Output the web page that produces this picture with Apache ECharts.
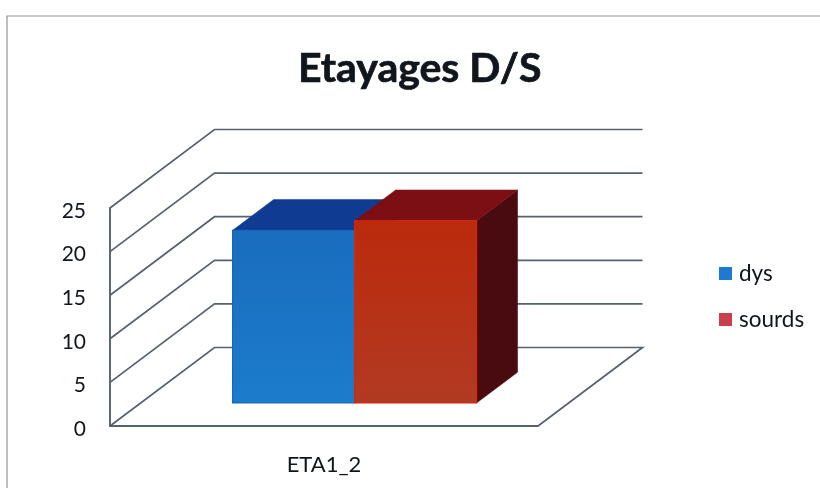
<!DOCTYPE html>
<html>
<head>
<meta charset="utf-8">
<style>html,body{margin:0;padding:0;background:#fff}#c{width:820px;height:488px}</style>
<script src="https://cdn.jsdelivr.net/npm/echarts@6/dist/echarts.min.js"></script>
</head>
<body>
<div id="c"></div>
<script>
const categories = ['ETA1_2'];
const yTicks = [0, 5, 10, 15, 20, 25];
const dysValues = [19.8];
const sourdsValues = [20.9];
const seriesNames = ['dys', 'sourds'];

// oblique projection of the depth axis, in pixels
const DEPTH_X = 104.5, DEPTH_Y = -78.5;
const BAR_FRONT = 0.293, BAR_BACK = 0.685, BAR_BAND = 0.285;
const LINE = '#56626f';
const G = echarts.graphic;
const vert = (a, b) => new G.LinearGradient(0, 0, 0, 1, [{offset: 0, color: a}, {offset: 1, color: b}]);

function wallRender(params, api) {
  const v = api.value(1);
  const p = api.coord([0, v]);
  const w = api.size([1, 0])[0];
  const left = p[0] - w / 2;
  const pts = [[left, p[1]], [left + DEPTH_X, p[1] + DEPTH_Y], [left + w + DEPTH_X, p[1] + DEPTH_Y]];
  if (v === 0) pts.push([left + w, p[1]]);
  return {type: 'polyline', shape: {points: pts},
    style: {fill: null, stroke: LINE, lineWidth: 1.7}};
}

function barRender(colors, side) {
  return function (params, api) {
    const top = api.coord([0, api.value(1)]);
    const base = api.coord([0, 0]);
    const bw = api.size([1, 0])[0] * BAR_BAND;
    const x0 = top[0] + (side < 0 ? -bw : 0), x1 = x0 + bw;
    const at = (x, y, t) => [x + DEPTH_X * t, y + DEPTH_Y * t];
    const ftl = at(x0, top[1], BAR_FRONT), ftr = at(x1, top[1], BAR_FRONT);
    const fbr = at(x1, base[1], BAR_FRONT), fbl = at(x0, base[1], BAR_FRONT);
    const btl = at(x0, top[1], BAR_BACK), btr = at(x1, top[1], BAR_BACK);
    const bbr = at(x1, base[1], BAR_BACK);
    return {type: 'group', children: [
      {type: 'polygon', shape: {points: [ftr, btr, bbr, fbr]},
        style: {fill: colors.side, stroke: colors.side, lineWidth: 0.5}},
      {type: 'polygon', shape: {points: [ftl, btl, btr, ftr]},
        style: {fill: colors.top, stroke: colors.top, lineWidth: 0.5}},
      {type: 'polygon', shape: {points: [ftl, ftr, fbr, fbl]},
        style: {fill: vert(colors.front[0], colors.front[1]), stroke: colors.edge, lineWidth: 1.2}}
    ]};
  };
}

const chart = echarts.init(document.getElementById('c'), null, {renderer: 'canvas'});
chart.setOption({
  animation: false,
  backgroundColor: '#ffffff',
  textStyle: {fontFamily: 'Lato'},
  title: {
    text: 'Etayages D/S', left: 293, top: 43,
    textStyle: {fontFamily: 'Lato', fontSize: 41, fontWeight: 'bold', color: '#10161c',
      textBorderColor: '#10161c', textBorderWidth: 0.7}
  },
  grid: {left: 110, top: 208, width: 428, height: 218},
  xAxis: {
    type: 'category', data: categories,
    axisLine: {lineStyle: {color: LINE, width: 1.8}}, axisTick: {show: false},
    axisLabel: {color: '#10161c', fontSize: 22, margin: 28, fontFamily: 'Lato'}
  },
  yAxis: {
    type: 'value', min: 0, max: 25, interval: 5,
    axisLine: {show: true, lineStyle: {color: '#4f5862', width: 1.8}},
    axisTick: {show: false}, splitLine: {show: false},
    axisLabel: {color: '#10161c', fontSize: 21, margin: 24, fontFamily: 'Lato',
      verticalAlign: 'top', lineHeight: 6}
  },
  legend: {
    data: seriesNames, orient: 'vertical', left: 714, top: 257, itemGap: 23,
    itemWidth: 13, itemHeight: 13, icon: 'rect', selectedMode: false,
    textStyle: {fontSize: 22.5, color: '#10161c', fontFamily: 'Lato', padding: [0, 0, 0, 2]}
  },
  graphic: [{
    type: 'rect', silent: true, z: -1,
    shape: {x: 7, y: 16, width: 900, height: 600},
    style: {fill: null, stroke: '#8f9396', lineWidth: 1.2}
  }],
  series: [
    {type: 'custom', name: 'walls', renderItem: wallRender, silent: true,
      data: yTicks.map(v => [0, v])},
    {type: 'custom', name: seriesNames[0], itemStyle: {color: '#1c7ad0'},
      renderItem: barRender({front: ['#1a6cbe', '#1c7ccc'], top: '#0f3c92', side: '#0b2c70', edge: '#1664b4'}, -1),
      data: dysValues.map(v => [0, v])},
    {type: 'custom', name: seriesNames[1], itemStyle: {color: '#c8404c'},
      renderItem: barRender({front: ['#bb2a0c', '#b23a22'], top: '#7c0f14', side: '#4a0b10', edge: '#d8260e'}, 1),
      data: sourdsValues.map(v => [0, v])}
  ]
});
</script>
</body>
</html>
